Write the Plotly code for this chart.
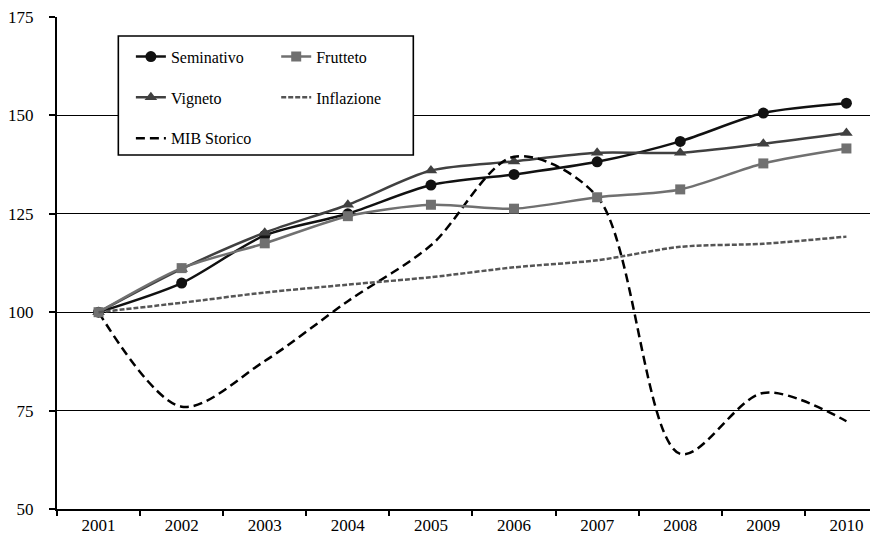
import plotly.graph_objects as go

years = ["2001", "2002", "2003", "2004", "2005", "2006", "2007", "2008", "2009", "2010"]
seminativo = [100, 107.4, 119.5, 125.0, 132.3, 135.0, 138.2, 143.4, 150.6, 153.1]
frutteto = [100, 111.2, 117.5, 124.4, 127.3, 126.3, 129.2, 131.2, 137.8, 141.6]
vigneto = [100, 111.0, 120.2, 127.3, 136.0, 138.3, 140.5, 140.5, 142.8, 145.5]
inflazione = [100, 102.4, 105.0, 107.0, 108.9, 111.4, 113.2, 116.6, 117.4, 119.2]
mib_storico = [100, 76.0, 87.6, 102.8, 117.0, 139.5, 129.4, 64.0, 79.5, 72.3]

FONT = "Liberation Serif"

fig = go.Figure()

fig.add_trace(go.Scatter(
    x=years, y=seminativo, name="Seminativo", mode="lines+markers",
    line=dict(color="#111111", width=2.5, shape="spline", smoothing=0.8),
    marker=dict(symbol="circle", size=11, color="#111111"),
    legend="legend", legendgroup="a"))
fig.add_trace(go.Scatter(
    x=years, y=vigneto, name="Vigneto", mode="lines+markers",
    line=dict(color="#404040", width=2.5, shape="spline", smoothing=0.8),
    marker=dict(symbol="triangle-up", size=11, color="#404040"),
    legend="legend", legendgroup="b"))
fig.add_trace(go.Scatter(
    x=years, y=mib_storico, name="MIB Storico", mode="lines",
    line=dict(color="#000000", width=2.5, shape="spline", smoothing=0.9, dash="9px,5px"),
    legend="legend", legendgroup="c"))
fig.add_trace(go.Scatter(
    x=years, y=frutteto, name="Frutteto", mode="lines+markers",
    line=dict(color="#707070", width=2.5, shape="spline", smoothing=0.8),
    marker=dict(symbol="square", size=10, color="#707070"),
    legend="legend2", legendgroup="d"))
fig.add_trace(go.Scatter(
    x=years, y=inflazione, name="Inflazione", mode="lines",
    line=dict(color="#555555", width=2.5, shape="spline", smoothing=0.8, dash="5px,2px"),
    legend="legend2", legendgroup="e"))

# legend frame
fig.add_shape(type="rect", xref="paper", yref="paper",
              x0=0.0747, x1=0.434, y0=0.7195, y1=0.9614,
              line=dict(color="black", width=1.6), fillcolor="white", layer="above")

leg_common = dict(
    font=dict(family=FONT, size=16, color="black"),
    bgcolor="rgba(0,0,0,0)", borderwidth=0,
    xanchor="left", yanchor="top", orientation="v",
    tracegroupgap=17, itemwidth=30,
)

# page body has an 8px margin: the figure is offset by (8, 8) in the window
fig.update_layout(
    width=870, height=536,
    margin=dict(l=49, r=0, t=9, b=35),
    paper_bgcolor="white", plot_bgcolor="white",
    font=dict(family=FONT, size=17, color="black"),
    legend=dict(x=0.090, y=0.954, **leg_common),
    legend2=dict(x=0.267, y=0.954, **leg_common),
    xaxis=dict(
        type="category", range=[-0.5, 9.38],
        tickson="boundaries", ticks="outside", ticklen=5, tickwidth=2, tickcolor="black",
        showline=True, linecolor="black", linewidth=2, showgrid=False,
        tickfont=dict(family=FONT, size=17, color="black"),
    ),
    yaxis=dict(
        range=[50, 175], dtick=25, tick0=50,
        ticks="outside", ticklen=6, tickwidth=2, tickcolor="black",
        showline=True, linecolor="black", linewidth=2,
        showgrid=True, gridcolor="black", gridwidth=1.4, zeroline=False,
        tickfont=dict(family=FONT, size=17, color="black"),
        ticklabelstandoff=12, ticklabeloverflow="allow",
    ),
)

fig.write_html("out.html")
